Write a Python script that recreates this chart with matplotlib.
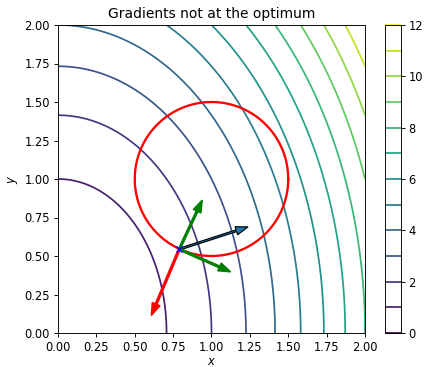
import numpy as np
import matplotlib
matplotlib.use("Agg")
import matplotlib.pyplot as plt

# Data
x_range = [0.0, 2.0]
y_range = [0.0, 2.0]
levels = list(range(0, 13))
circle_center = [1.0, 1.0]
circle_radius = 0.5
point = [0.79, 0.544]
# arrow vectors (dx, dy) from the point
grad_f = [0.448, 0.145]           # black: gradient of objective
grad_f_normal = [0.150, 0.319]    # green: normal component
grad_f_tangent = [0.335, -0.147]  # green: tangent component
grad_g = [-0.182, -0.43]          # red: gradient of constraint
xticks = [0.0, 0.25, 0.5, 0.75, 1.0, 1.25, 1.5, 1.75, 2.0]
yticks = [0.0, 0.25, 0.5, 0.75, 1.0, 1.25, 1.5, 1.75, 2.0]
cbar_ticks = [0, 2, 4, 6, 8, 10, 12]

s = 0.83
plt.rcParams.update({
    "font.size": 10 * s,
    "axes.titlesize": 12 * s,
    "axes.labelsize": 10 * s,
    "xtick.labelsize": 10 * s,
    "ytick.labelsize": 10 * s,
    "axes.linewidth": 0.8 * s,
    "xtick.major.width": 0.8 * s,
    "ytick.major.width": 0.8 * s,
    "xtick.major.size": 3.5 * s,
    "ytick.major.size": 3.5 * s,
    "xtick.major.pad": 3.5 * s,
    "ytick.major.pad": 3.5 * s,
})

fig = plt.figure(figsize=(4.26, 3.67), dpi=100)
W, H = 426, 367
ax = fig.add_axes([58 / W, (H - 333) / H, 307 / W, 308 / H])
cax = fig.add_axes([385 / W, (H - 333) / H, 15.5 / W, 308 / H])

xs = np.linspace(x_range[0], x_range[1], 400)
ys = np.linspace(y_range[0], y_range[1], 400)
X, Y = np.meshgrid(xs, ys)
Z = 2 * X ** 2 + Y ** 2
cs = ax.contour(X, Y, Z, levels=levels, cmap="viridis", linewidths=1.5 * s)

t = np.linspace(0, 2 * np.pi, 300)
ax.plot(circle_center[0] + circle_radius * np.cos(t),
        circle_center[1] + circle_radius * np.sin(t), color="red", lw=2 * s)

akw = dict(width=0.012, head_width=0.055, head_length=0.08, length_includes_head=True)
ax.arrow(point[0], point[1], grad_f[0], grad_f[1], fc="C0", ec="k", lw=1.0 * s, zorder=5, **akw)
ax.arrow(point[0], point[1], grad_f_normal[0], grad_f_normal[1], color="g", zorder=5, **akw)
ax.arrow(point[0], point[1], grad_f_tangent[0], grad_f_tangent[1], color="g", zorder=5, **akw)
ax.arrow(point[0], point[1], grad_g[0], grad_g[1], color="red", zorder=5, **akw)
ax.plot([point[0]], [point[1]], marker="x", color="blue", ms=4, mew=1, zorder=6)

ax.set_xlim(x_range)
ax.set_ylim(y_range)
ax.set_xticks(xticks)
ax.set_yticks(yticks)
ax.set_xlabel("$x$", labelpad=1)
ax.set_ylabel("$y$", labelpad=3)
ax.set_title("Gradients not at the optimum", pad=6 * s)

cb = fig.colorbar(cs, cax=cax)
cb.set_ticks(cbar_ticks)
cb.outline.set_linewidth(0.8 * s)

fig.savefig("out.png", dpi=100)
